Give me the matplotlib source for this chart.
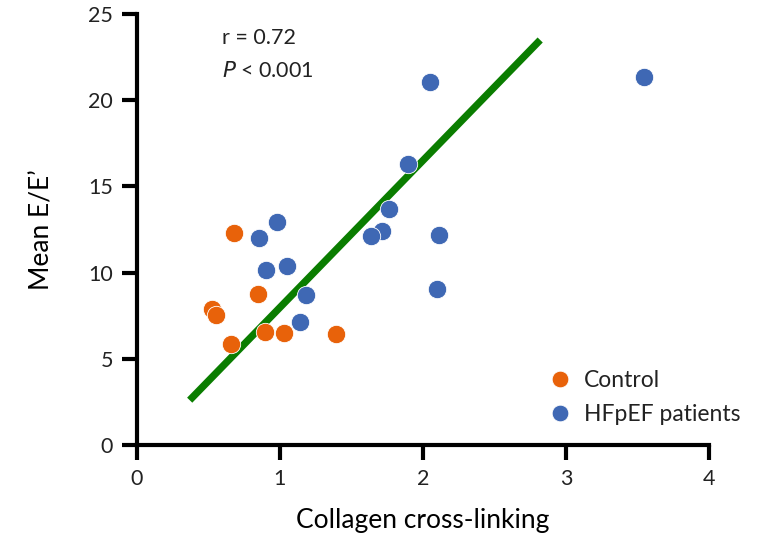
import matplotlib
matplotlib.use("Agg")
import matplotlib.pyplot as plt
from matplotlib.lines import Line2D

plt.rcParams['font.family'] = ['Lato', 'DejaVu Sans']

control_x = [0.678, 0.524, 0.552, 0.846, 0.657, 0.895, 1.028, 1.392]
control_y = [12.30, 7.89, 7.55, 8.76, 5.86, 6.55, 6.48, 6.42]
hfpef_x = [0.979, 0.853, 0.902, 1.049, 1.182, 1.140, 2.049, 3.545, 1.895, 1.762, 1.713, 1.636, 2.112, 2.098]
hfpef_y = [12.93, 12.01, 10.15, 10.40, 8.70, 7.15, 21.06, 21.36, 16.30, 13.69, 12.41, 12.12, 12.18, 9.03]
fit_x = [0.37, 2.82]
fit_y = [2.6, 23.5]
x_ticks = [0, 1, 2, 3, 4]
y_ticks = [0, 5, 10, 15, 20, 25]

fig = plt.figure(figsize=(7.64, 5.44), dpi=100)
ax = fig.add_axes([0.179, 0.182, 0.749, 0.792])

ax.plot(fit_x, fit_y, color='#0a7d00', lw=5.2, solid_capstyle='butt', zorder=2)
ax.scatter(control_x, control_y, s=175, color='#E8620A', edgecolor='white', linewidth=0.6, zorder=3)
ax.scatter(hfpef_x, hfpef_y, s=175, color='#3F68B4', edgecolor='white', linewidth=0.6, zorder=3)

ax.set_xlim(0, 4)
ax.set_ylim(0, 25)
ax.set_xticks(x_ticks)
ax.set_yticks(y_ticks)
for s in ['top', 'right']:
    ax.spines[s].set_visible(False)
for s in ['left', 'bottom']:
    ax.spines[s].set_linewidth(3)
ax.tick_params(length=11, width=3, labelsize=15.5, labelcolor='#222222', color='black', pad=6)
ax.set_xlabel('Collagen cross-linking', fontsize=19, labelpad=14)
ax.set_ylabel('Mean E/E\u2019', fontsize=19, labelpad=24)

ax.text(0.149, 0.945, 'r = 0.72', transform=ax.transAxes, fontsize=15.5, color='#222222', va='center')
ax.text(0.149, 0.868, '$\\it{P}$ < 0.001', transform=ax.transAxes, fontsize=15.5, color='#222222', va='center')

handles = [Line2D([], [], ls='none', marker='o', ms=12, color='#E8620A', mec='white', mew=0.6),
           Line2D([], [], ls='none', marker='o', ms=12, color='#3F68B4', mec='white', mew=0.6)]
ax.legend(handles, ['Control', 'HFpEF patients'], loc='upper left', bbox_to_anchor=(0.715, 0.175),
          frameon=False, fontsize=16.5, handletextpad=0.45, labelspacing=0.6, borderaxespad=0,
          borderpad=0, handlelength=1.2, labelcolor='#222222')

fig.savefig('out.png', dpi=100)
